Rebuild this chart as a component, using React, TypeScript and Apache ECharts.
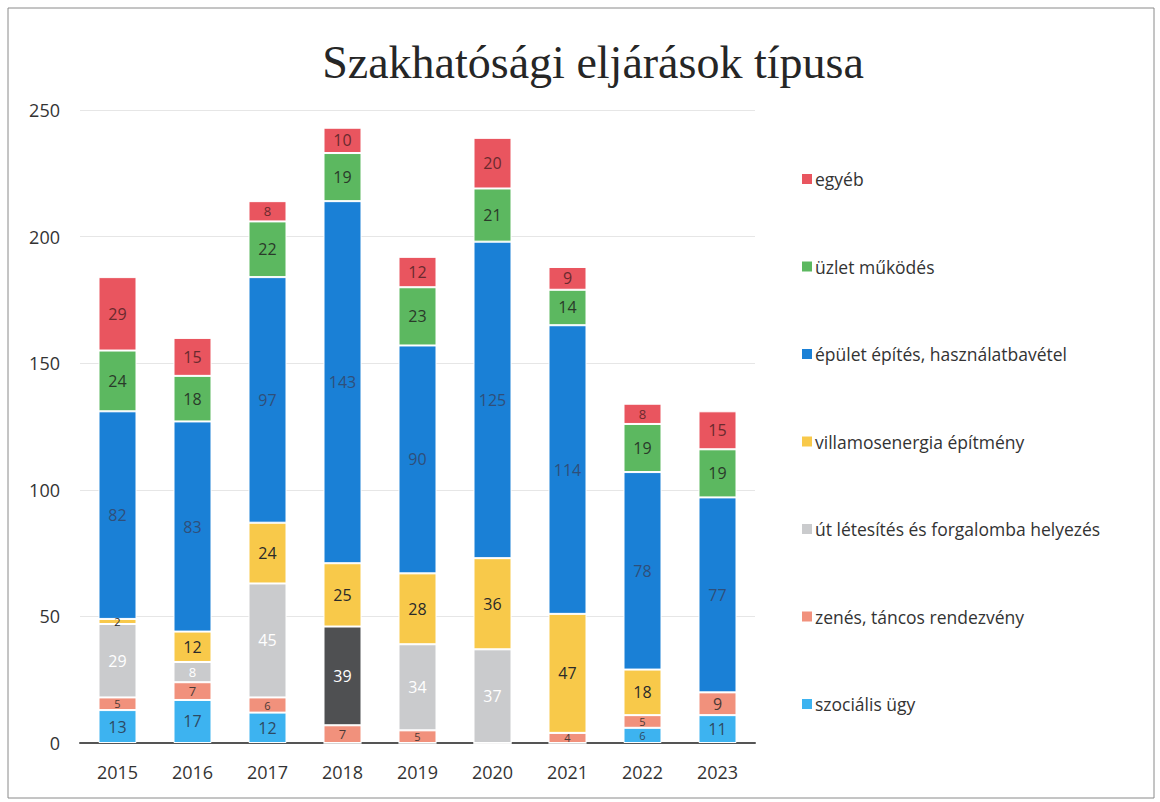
import React, { useEffect, useRef } from "react";
import * as echarts from "echarts";

const years = ["2015", "2016", "2017", "2018", "2019", "2020", "2021", "2022", "2023"];
const szocialis = [13, 17, 12, 0, 0, 0, 0, 6, 11];
const zenes = [5, 7, 6, 7, 5, 0, 4, 5, 9];
const ut = [29, 8, 45, 39, 34, 37, 0, 0, 0];
const villamos = [2, 12, 24, 25, 28, 36, 47, 18, 0];
const epulet = [82, 83, 97, 143, 90, 125, 114, 78, 77];
const uzlet = [24, 18, 22, 19, 23, 21, 14, 19, 19];
const egyeb = [29, 15, 8, 10, 12, 20, 9, 8, 15];
const yTicks = [0, 50, 100, 150, 200, 250];

const seriesDefs = [
  { name: "szociális ügy", data: szocialis, color: "#3db3f0", label: "#2d4a63" },
  { name: "zenés, táncos rendezvény", data: zenes, color: "#f1917c", label: "#4a3a36" },
  { name: "út létesítés és forgalomba helyezés", data: ut, color: "#cacbcd", label: "#ffffff" },
  { name: "villamosenergia építmény", data: villamos, color: "#f8c94a", label: "#2a2a2a" },
  { name: "épület építés, használatbavétel", data: epulet, color: "#1a80d6", label: "#2f4f7a" },
  { name: "üzlet működés", data: uzlet, color: "#5cb860", label: "#2a3a2a" },
  { name: "egyéb", data: egyeb, color: "#e9555f", label: "#6a2a2e" },
];

export default function App() {
  const ref = useRef<HTMLDivElement>(null);
  useEffect(() => {
    document.body.style.margin = "0";
    const chart = echarts.init(ref.current!, null, { renderer: "svg" });
    const series = seriesDefs.map((s) => ({
      name: s.name,
      type: "bar",
      stack: "total",
      barWidth: 38,
      itemStyle: { color: s.color, borderColor: "#ffffff", borderWidth: 1 },
      label: {
        show: true,
        position: "inside",
        color: s.label,
        fontSize: 16,
        fontFamily: "Open Sans",
        formatter: (p: any) => (p.value ? String(p.value) : ""),
      },
      data: s.data.map((v, i) => {
        const item: any = { value: v };
        if (s.name.startsWith("út") && years[i] === "2018") item.itemStyle = { color: "#4f5052" };
        if (v > 0 && v <= 6) item.label = { fontSize: 11, lineHeight: 11 };
        else if (v > 6 && v < 9) item.label = { fontSize: 13, lineHeight: 13 };
        return item;
      }),
    }));
    chart.setOption({
      animation: false,
      backgroundColor: "#ffffff",
      title: {
        text: "Szakhatósági eljárások típusa",
        left: 588,
        top: 34,
        textAlign: "center",
        textStyle: {
          fontFamily: "Liberation Serif",
          fontSize: 46,
          fontWeight: "normal",
          color: "#262626",
        },
      },
      legend: {
        orient: "vertical",
        left: 795,
        top: 165,
        itemGap: 69.5,
        itemWidth: 12,
        itemHeight: 12,
        icon: "rect",
        data: seriesDefs.map((s) => s.name).reverse(),
        textStyle: { fontSize: 17.5, color: "#333333", fontFamily: "Open Sans", padding: [0, 0, 0, -3] },
      },
      grid: { left: 80, right: 405, top: 110, bottom: 59 },
      xAxis: {
        type: "category",
        data: years,
        axisLine: { lineStyle: { color: "#555555", width: 2 } },
        axisTick: { show: false },
        axisLabel: { fontSize: 18, color: "#333333", margin: 20, fontFamily: "Open Sans" },
      },
      yAxis: {
        type: "value",
        min: yTicks[0],
        max: yTicks[yTicks.length - 1],
        interval: 50,
        axisLine: { show: false },
        axisTick: { show: false },
        splitLine: { lineStyle: { color: "#e6e6e6" } },
        axisLabel: { fontSize: 18, color: "#333333", margin: 20, fontFamily: "Open Sans" },
      },
      graphic: [
        {
          type: "rect",
          shape: { x: 8, y: 8, width: 1146, height: 790 },
          style: { fill: "none", stroke: "#8a8a8a", lineWidth: 1 },
        },
      ],
      series,
    });
    return () => chart.dispose();
  }, []);
  return <div ref={ref} style={{ width: 1160, height: 802 }} />;
}
